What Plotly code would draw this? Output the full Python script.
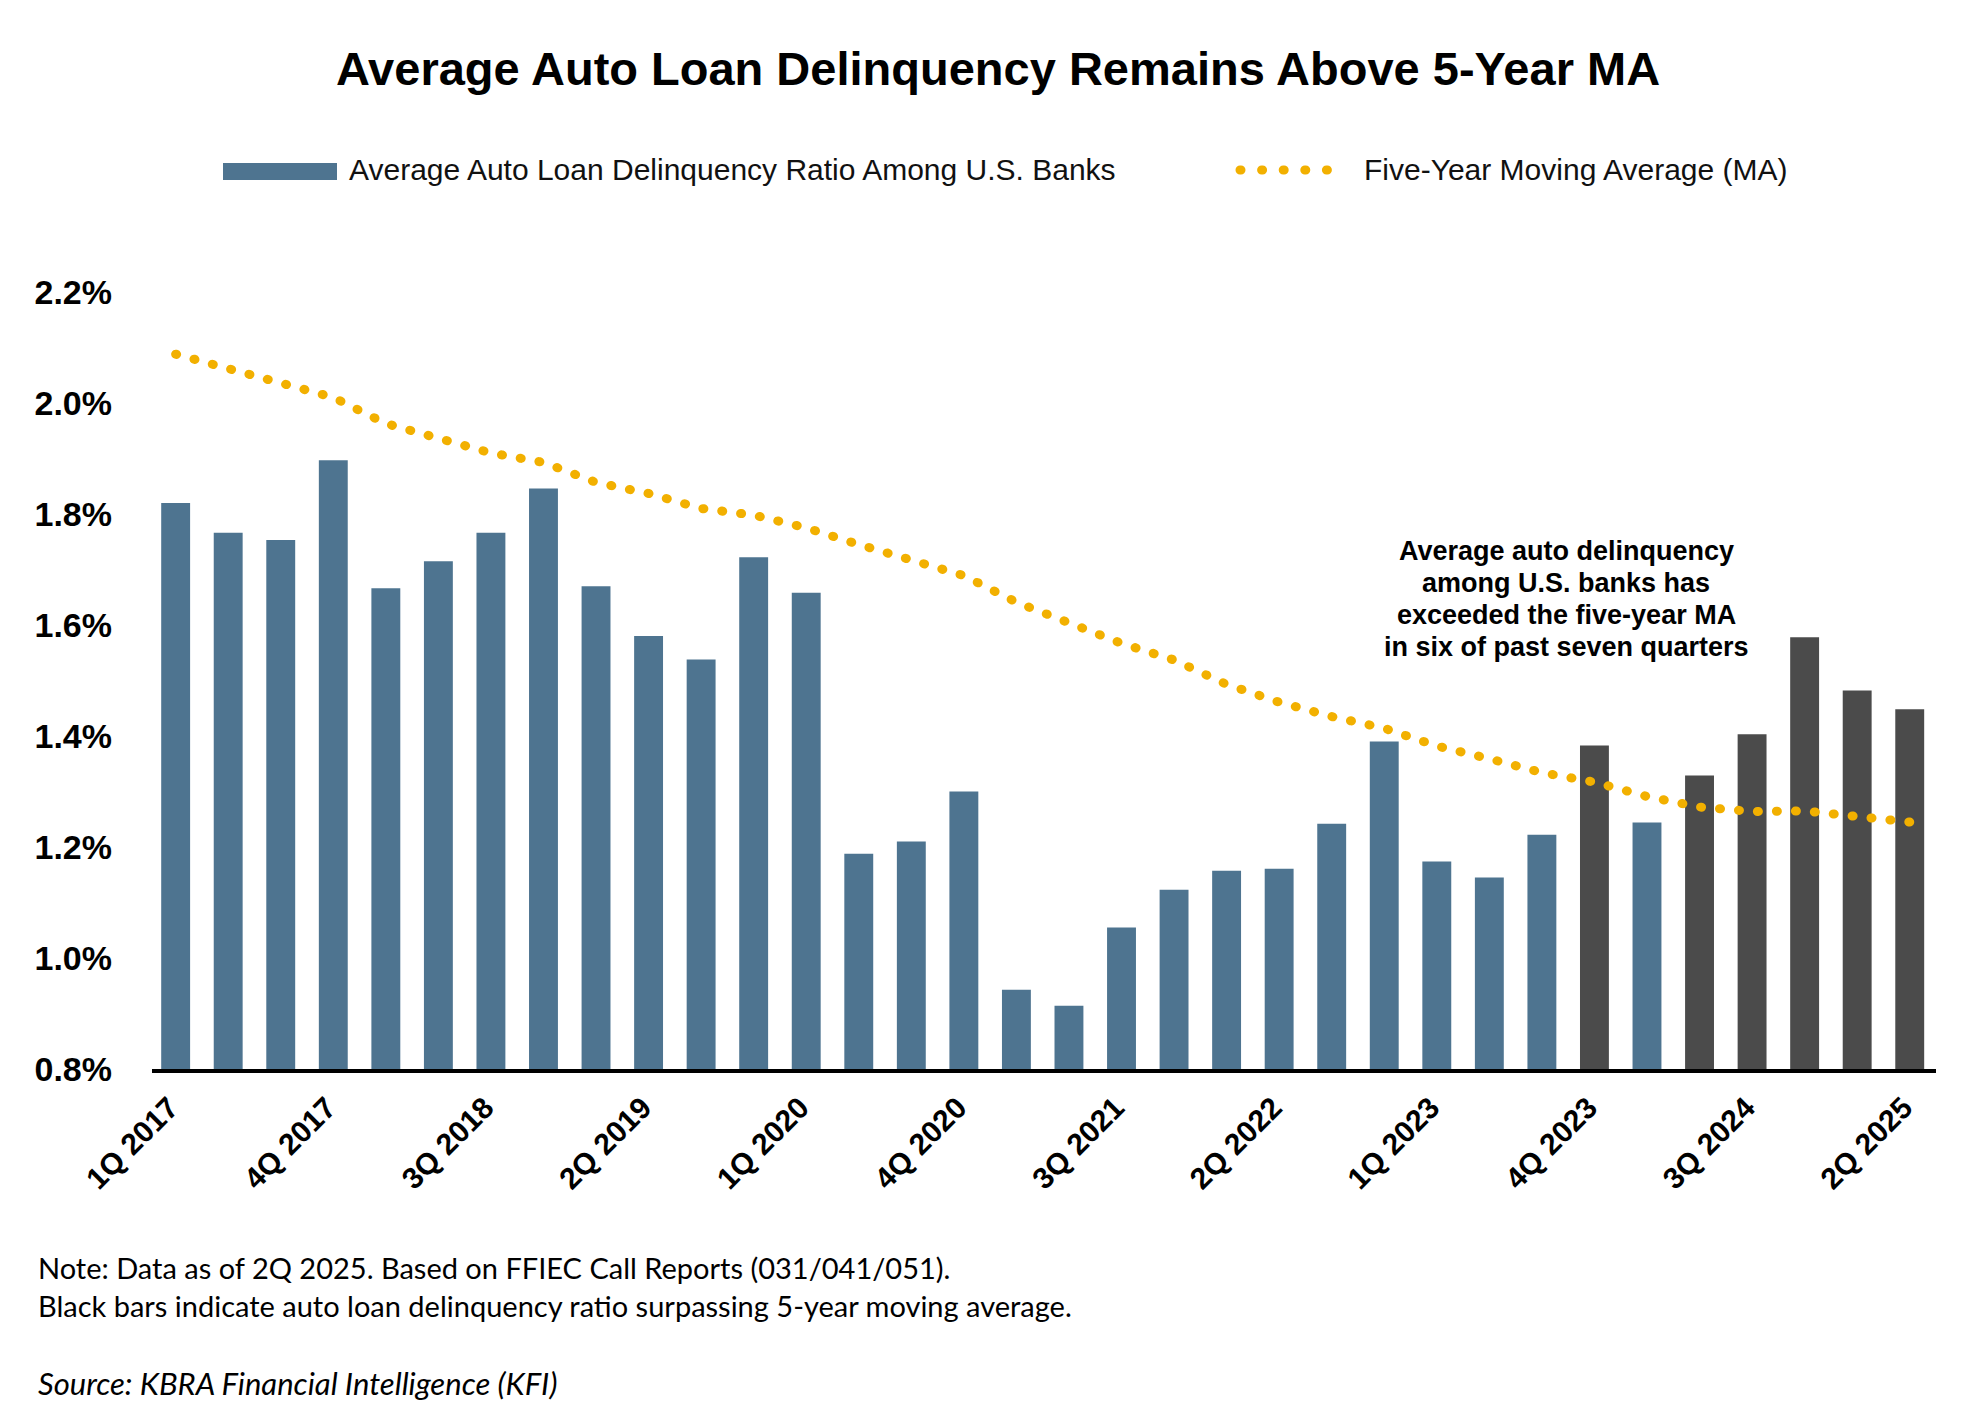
import plotly.graph_objects as go

# quarters 1Q 2017 .. 2Q 2025
quarters = [
    "1Q 2017", "2Q 2017", "3Q 2017", "4Q 2017",
    "1Q 2018", "2Q 2018", "3Q 2018", "4Q 2018",
    "1Q 2019", "2Q 2019", "3Q 2019", "4Q 2019",
    "1Q 2020", "2Q 2020", "3Q 2020", "4Q 2020",
    "1Q 2021", "2Q 2021", "3Q 2021", "4Q 2021",
    "1Q 2022", "2Q 2022", "3Q 2022", "4Q 2022",
    "1Q 2023", "2Q 2023", "3Q 2023", "4Q 2023",
    "1Q 2024", "2Q 2024", "3Q 2024", "4Q 2024",
    "1Q 2025", "2Q 2025",
]

# average auto loan delinquency ratio, %
delinquency = [
    1.82, 1.766, 1.753, 1.897,
    1.666, 1.715, 1.766, 1.846,
    1.670, 1.580, 1.538, 1.722,
    1.658, 1.188, 1.210, 1.300,
    0.943, 0.914, 1.055, 1.123,
    1.157, 1.161, 1.242, 1.390,
    1.174, 1.145, 1.222, 1.383,
    1.244, 1.329, 1.403, 1.578,
    1.482, 1.448,
]

# five-year moving average, %
moving_avg = [
    2.088, 2.063, 2.035, 2.010,
    1.963, 1.937, 1.910, 1.893,
    1.857, 1.837, 1.810, 1.798,
    1.775, 1.745, 1.718, 1.689,
    1.641, 1.605, 1.567, 1.537,
    1.493, 1.461, 1.435, 1.414,
    1.382, 1.359, 1.334, 1.317,
    1.291, 1.272, 1.264, 1.265,
    1.253, 1.245,
]

tick_quarters = quarters[::3]
y_ticks = [0.8, 1.0, 1.2, 1.4, 1.6, 1.8, 2.0, 2.2]
y_labels = [f"{v:.1f}%" for v in y_ticks]

callout_lines = [
    "Average auto delinquency",
    "among U.S. banks has",
    "exceeded the five-year MA",
    "in six of past seven quarters",
]

BLUE = "#4E7490"
DARK = "#4B4B4B"
GOLD = "#F2B000"

W, H = 1980, 1403
L, R, T, B = 144, 52, 284, 342


def px_x(px):
    return (px - L) / (W - L - R)


def px_y(py):
    return (H - B - py) / (H - T - B)


bar_colors = [DARK if v > m else BLUE for v, m in zip(delinquency, moving_avg)]

fig = go.Figure()
fig.add_trace(go.Bar(
    x=quarters, y=delinquency, marker=dict(color=bar_colors, line_width=0),
    name="Average Auto Loan Delinquency Ratio Among U.S. Banks",
    showlegend=False,
))
fig.add_trace(go.Scatter(
    x=quarters, y=moving_avg, mode="lines",
    line=dict(color=GOLD, width=9, dash="1px,18px"),
    name="Five-Year Moving Average (MA)",
    showlegend=False,
))

legend_font = dict(family="Liberation Sans, Arial", size=30, color="#111111")
note_font = dict(family="Lato, Noto Sans", size=29, color="black")
callout_font = dict(family="Liberation Sans, Arial", size=27, color="black")

annotations = [
    dict(text="Average Auto Loan Delinquency Ratio Among U.S. Banks",
         xref="paper", yref="paper", x=px_x(339), y=px_y(161),
         xanchor="left", yanchor="middle", showarrow=False, font=legend_font),
    dict(text="Five-Year Moving Average (MA)",
         xref="paper", yref="paper", x=px_x(1354), y=px_y(161),
         xanchor="left", yanchor="middle", showarrow=False, font=legend_font),
    dict(text="Note: Data as of 2Q 2025. Based on FFIEC Call Reports (031/041/051).<br>"
              "Black bars indicate auto loan delinquency ratio surpassing 5-year moving average.",
         xref="paper", yref="paper", x=px_x(28), y=px_y(1278),
         xanchor="left", yanchor="middle", align="left", showarrow=False,
         font=note_font),
    dict(text="<i>Source: KBRA Financial Intelligence (KFI)</i>",
         xref="paper", yref="paper", x=px_x(28), y=px_y(1375),
         xanchor="left", yanchor="middle", align="left", showarrow=False,
         font=dict(family="Lato, Noto Sans", size=31, color="black")),
]

# call-out text, one line per annotation to keep the tight line pitch
for i, line in enumerate(callout_lines):
    annotations.append(dict(
        text=f"<b>{line}</b>", xref="paper", yref="paper",
        x=px_x(1558), y=px_y(543 + 32 * i),
        xanchor="center", yanchor="middle", showarrow=False, font=callout_font,
    ))

fig.update_layout(
    width=W, height=H,
    margin=dict(l=L, r=R, t=T, b=B),
    paper_bgcolor="white", plot_bgcolor="white",
    bargap=0.45,
    title=dict(
        text="<b>Average Auto Loan Delinquency Remains Above 5-Year MA</b>",
        x=0.5, xref="container", xanchor="center",
        y=1 - 61 / H, yanchor="middle",
        font=dict(family="Liberation Sans, Arial", size=47, color="black"),
    ),
    xaxis=dict(
        type="category", range=[-0.45, 33.5],
        tickvals=tick_quarters, ticktext=tick_quarters,
        tickangle=-45, ticklabelshift=-6, ticklabelstandoff=5,
        tickfont=dict(family="Liberation Sans, Arial", size=30, color="black", weight="bold"),
        showline=True, linecolor="black", linewidth=4,
        showgrid=False, ticks="", zeroline=False,
    ),
    yaxis=dict(
        range=[0.8, 2.2], tickvals=y_ticks, ticktext=y_labels,
        tickfont=dict(family="Liberation Sans, Arial", size=34, color="black", weight="bold"),
        ticklabelstandoff=39,
        showgrid=False, zeroline=False, showline=False, ticks="",
    ),
    shapes=[
        dict(type="rect", xref="paper", yref="paper",
             x0=px_x(215), x1=px_x(329), y0=px_y(172), y1=px_y(155),
             fillcolor=BLUE, line_width=0),
        dict(type="line", xref="paper", yref="paper",
             x0=px_x(1232), x1=px_x(1340), y0=px_y(162), y1=px_y(162),
             line=dict(color=GOLD, width=9, dash="1px,20.6px")),
    ],
    annotations=annotations,
)

# round dots for the dotted moving-average line
round_caps = (
    "var s=document.createElement('style');"
    "s.innerHTML='.scatterlayer .js-line, .shapelayer path{stroke-linecap:round}';"
    "document.head.appendChild(s);"
)

fig.write_html("out.html", post_script=round_caps)
